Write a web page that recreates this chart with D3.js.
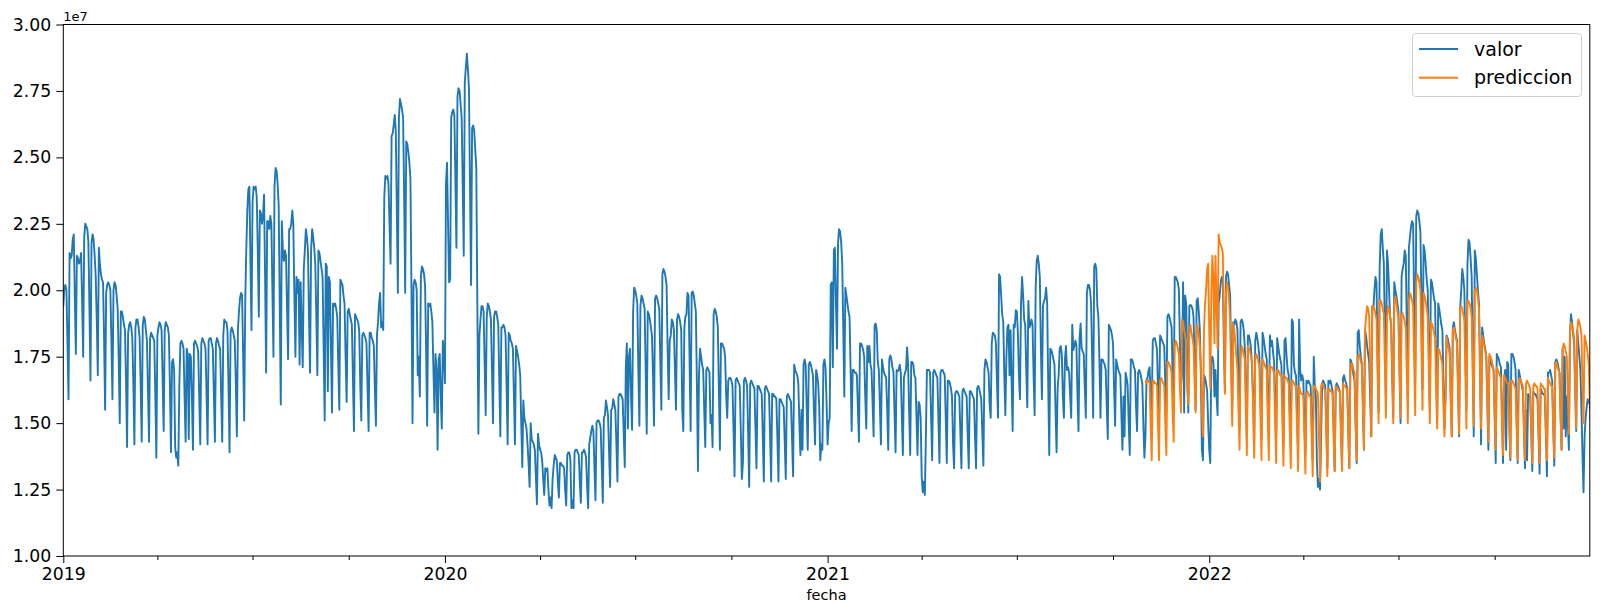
<!DOCTYPE html>
<html>
<head>
<meta charset="utf-8">
<script src="https://cdn.jsdelivr.net/npm/d3@7"></script>
<style>
html,body{margin:0;padding:0;background:#fff;}
svg{display:block;font-family:"DejaVu Sans",sans-serif;}
</style>
</head>
<body>
<svg id="chart" width="1600" height="613"></svg>
<script>
// ---- DATA (daily values, in millions) ----
const seriesNames = ["valor", "prediccion"];
const yTickValues = [1.00, 1.25, 1.50, 1.75, 2.00, 2.25, 2.50, 2.75, 3.00];
const xYearTicks = ["2019", "2020", "2021", "2022"];

// valor: 2019-01-01 .. 2019-12-31
const valor2019 = [
19.4,20.1,20.2,20.0,18.0,15.9,
21.4,21.2,21.3,21.9,22.1,19.8,17.6,
21.3,21.2,21.0,21.1,21.4,19.6,17.5,
22.0,22.5,22.4,22.3,21.8,19.3,16.6,
21.8,22.1,21.9,21.3,20.5,18.9,16.8,
21.6,21.0,20.6,20.4,20.3,18.2,15.5,
19.9,20.2,20.3,20.2,20.0,18.1,15.9,
20.0,20.3,20.2,19.8,19.3,17.4,15.0,
19.2,19.2,19.0,18.7,18.5,16.6,14.1,
18.4,18.7,18.8,18.6,18.2,16.5,14.2,
18.6,18.9,18.9,18.6,18.2,16.4,14.3,
18.7,19.0,18.9,18.5,18.1,16.2,14.3,
18.2,18.4,18.3,18.2,18.1,16.1,13.7,
18.3,18.6,18.8,18.7,18.5,16.6,14.7,
18.5,18.8,18.7,18.6,18.3,16.3,13.9,
17.3,17.4,17.0,14.1,13.7,13.9,13.4,
16.5,18.0,18.1,18.0,17.8,16.0,14.3,
17.8,17.6,14.4,17.6,17.5,16.0,14.0,
18.0,18.1,18.0,17.9,17.7,16.0,14.2,
18.0,18.2,18.1,18.0,17.8,16.1,14.2,
18.1,18.2,18.2,18.0,17.8,16.1,14.3,
18.0,18.2,18.1,17.9,17.8,16.0,14.3,
18.3,18.9,18.8,18.8,18.5,16.4,13.9,
18.4,18.6,18.5,18.3,18.1,16.5,14.5,
18.5,19.2,19.7,19.9,19.8,17.5,15.1,
19.5,21.5,23.0,23.8,23.9,21.0,18.5,
23.3,23.9,23.8,23.9,23.5,21.5,19.0,
23.0,22.9,22.5,22.8,23.6,20.5,16.9,
22.6,22.6,22.3,22.8,22.5,20.0,17.5,
23.9,24.6,24.5,24.0,23.2,19.5,15.7,
22.6,21.5,21.1,21.5,21.3,19.3,17.4,
22.3,22.3,22.5,23.0,22.5,19.8,17.5,
20.5,19.9,20.4,17.2,20.3,18.6,17.1,
20.8,21.5,22.3,22.0,21.5,19.0,16.9,
21.5,22.3,22.0,21.6,21.0,19.0,16.8,
21.5,21.4,21.1,20.8,20.5,17.8,15.1,
21.0,20.9,16.2,20.5,20.3,17.8,15.4,
19.5,19.4,19.5,19.3,19.0,17.2,15.5,
20.4,20.3,20.2,19.8,19.5,17.5,15.8,
19.2,19.3,19.1,18.9,18.7,16.7,14.7,
19.1,19.0,18.9,18.8,18.5,16.5,15.1,
18.3,18.4,18.3,18.2,18.0,16.3,14.7,
18.4,18.4,18.2,18.1,17.9,16.3,14.9,
18.3,18.8,19.5,19.9,18.6,18.8,18.5,
23.5,24.3,24.2,24.3,24.0,22.5,21.0,
25.8,25.9,26.2,26.6,26.0,23.0,19.9,
26.5,27.2,27.0,26.8,26.5,23.5,19.9,
25.6,25.5,25.2,24.8,24.2,20.0,15.0,
20.2,20.4,20.3,20.0,16.8,17.5,16.0,
20.5,20.9,20.8,20.6,20.2,17.8,14.9,
19.5,19.4,19.5,19.2,18.8,17.0,15.4,
17.6,17.0,14.0,17.4,17.6,16.0,14.8,
18.1,17.6
];

// valor: 2020-01-01 .. 2020-12-31
const valor2020 = [
16.5,24.0,24.8,22.5,20.3,
20.4,26.5,26.7,26.8,26.6,24.2,21.6,
27.3,27.6,27.5,27.0,26.5,24.0,21.3,
27.8,28.4,28.9,28.3,27.6,23.8,20.2,
26.1,26.2,26.0,25.3,24.6,19.5,14.6,
18.3,18.9,19.4,19.4,19.2,17.2,15.3,
19.0,19.5,19.4,19.2,18.9,17.0,15.0,
19.0,19.2,19.2,19.0,18.7,16.6,14.5,
18.6,18.6,18.7,18.6,18.3,16.3,14.2,
18.4,18.3,18.1,18.0,17.8,16.0,14.2,
17.9,17.7,17.5,17.2,16.8,15.0,13.35,
15.85,15.2,15.0,14.8,14.2,13.5,12.6,
15.0,14.4,14.3,14.2,14.0,13.0,11.95,
14.6,14.2,14.0,13.9,13.6,12.9,12.3,
13.3,13.2,13.3,12.5,11.9,12.2,11.8,
12.9,13.4,13.8,13.7,13.6,12.8,12.2,
13.5,13.5,13.4,13.4,13.3,12.5,11.9,
13.8,13.9,13.9,13.6,11.8,12.1,11.8,
13.9,14.0,14.0,13.9,13.8,12.8,12.0,
13.9,13.9,14.0,13.9,13.7,12.6,11.8,
14.2,14.45,14.7,14.9,14.7,13.3,12.1,
15.0,15.1,15.1,15.0,14.8,13.4,12.0,
15.2,15.3,15.85,15.6,15.3,13.9,12.6,
15.5,15.55,15.9,15.7,15.5,14.2,12.8,
16.0,16.1,16.1,16.0,15.9,14.6,13.35,
17.1,18.0,14.8,17.5,17.8,16.0,14.75,
19.2,20.1,20.0,19.8,19.5,17.0,14.9,
19.4,19.8,19.7,19.5,19.3,17.0,14.6,
19.2,19.1,18.9,18.6,18.3,16.8,14.9,
19.7,19.8,19.7,19.5,19.3,17.3,15.5,
20.6,20.8,20.7,20.5,20.2,17.8,15.9,
18.1,18.3,18.9,18.8,18.5,17.0,15.5,
18.9,19.1,19.0,18.8,18.5,15.5,14.7,
18.6,19.0,19.1,19.9,19.8,17.3,14.7,
19.9,19.95,19.8,19.5,19.2,16.5,13.2,
16.8,17.8,17.5,17.2,17.0,15.5,14.1,
17.0,17.1,17.0,16.9,15.0,15.3,14.1,
19.1,19.3,19.2,19.0,18.6,16.3,14.0,
18.0,18.0,17.9,17.8,17.5,16.0,15.2,
16.6,16.7,16.7,16.6,16.4,14.8,13.0,
16.6,16.7,16.6,16.5,16.4,14.7,12.9,
13.5,16.6,16.7,16.6,16.4,14.6,12.6,
16.5,16.6,16.5,16.4,16.3,14.8,13.3,
16.4,16.4,16.3,16.2,16.1,14.5,12.8,
16.3,16.4,16.3,16.2,16.1,14.5,12.8,
16.1,16.1,16.0,16.0,15.9,14.4,12.8,
15.9,15.9,15.8,15.7,15.6,14.3,12.9,
16.0,16.1,16.0,15.9,15.8,14.4,13.0,
17.2,17.0,16.9,16.8,16.5,15.0,13.8,
15.5,14.0,17.2,17.4,17.2,15.6,14.0,
17.2,17.3,17.2,17.0,16.8,15.4,14.2,
17.0,16.8,16.5,15.6,13.6,14.2,14.0,
17.2,17.4,17.1,15.8
];

// valor: 2021-01-01 .. 2021-12-31
const valor2021 = [
14.2,15.0,15.2,
20.2,20.3,17.1,21.5,21.6,19.5,17.8,
21.8,22.3,22.2,21.8,21.0,18.5,16.0,
20.1,19.8,19.5,19.2,19.0,17.0,14.7,
17.0,17.0,16.9,16.9,16.8,15.5,14.3,
18.0,18.0,17.9,17.75,17.5,16.0,14.8,
17.9,17.3,17.9,17.2,17.0,15.8,14.5,
18.7,18.75,18.5,17.3,17.0,15.7,14.2,
17.4,17.1,16.9,16.8,16.7,15.5,14.0,
17.4,17.55,17.4,17.1,16.9,15.4,13.9,
17.0,16.95,17.0,17.2,16.9,15.3,13.8,
16.7,16.9,17.0,17.85,17.2,15.4,13.8,
17.3,17.3,17.2,16.8,16.7,15.2,13.8,
15.8,15.7,15.2,13.0,12.4,12.8,12.3,
14.5,17.0,17.0,17.0,16.9,15.2,13.6,
16.9,17.0,16.9,16.8,16.7,15.1,13.5,
16.9,17.0,17.0,16.9,16.8,15.2,13.5,
16.6,16.6,16.5,16.3,16.0,14.2,13.3,
16.1,16.2,16.2,16.1,16.0,14.6,13.3,
16.2,16.3,16.2,16.1,16.0,14.6,13.3,
16.2,16.2,16.1,16.0,15.9,14.5,13.3,
16.3,16.4,16.3,16.1,15.9,14.6,13.4,
17.0,17.4,17.3,17.1,16.9,15.7,15.2,
18.0,18.4,18.35,18.3,18.0,16.5,15.2,
20.6,20.5,19.8,19.1,18.8,16.8,15.3,
17.5,18.6,18.7,16.8,18.5,16.5,14.7,
18.7,18.6,19.25,19.2,18.4,16.8,15.9,
19.5,20.5,19.8,18.9,18.7,17.0,15.6,
19.6,18.6,18.7,18.9,18.7,16.8,15.3,
20.1,21.1,21.3,21.0,20.5,17.8,15.9,
19.4,19.6,19.7,20.1,19.5,16.5,13.8,
17.8,17.75,17.6,17.4,17.2,15.5,13.9,
16.3,16.8,17.8,17.9,17.6,16.0,15.2,
17.4,17.9,17.0,17.1,16.9,16.0,15.2,
18.7,17.75,17.9,18.1,17.9,16.0,14.7,
18.2,18.75,17.8,17.7,17.6,16.3,15.2,
19.9,20.2,20.2,20.0,19.5,17.5,15.2,
20.9,21.0,20.8,19.4,19.0,17.3,15.2,
17.4,17.4,17.3,17.2,17.0,15.6,14.4,
18.7,18.6,18.5,18.3,18.0,16.3,14.9,
17.4,17.2,17.0,16.9,16.8,15.3,14.0,
16.0,14.5,16.9,16.7,16.4,15.0,13.8,
17.4,17.4,17.3,17.1,17.0,15.6,14.7,
16.9,17.0,16.9,16.7,16.5,15.0,13.7,
14.5,16.6,16.7,17.0,17.1,15.8,15.5,
18.1,18.2,18.2,18.0,17.8,16.3,15.3,
18.3,18.2,18.1,18.0,17.9,16.4,15.4,
19.0,19.1,19.0,18.8,18.6,16.8,15.4,
20.5,20.5,20.4,20.3,20.0,17.9,16.4,
17.0,20.3,15.4,19.8,19.5,17.0,15.4,
19.4,19.45,19.4,19.3,19.0,17.2,15.5,
19.6,19.7,19.2,18.5,16.8,14.0,13.6,
16.8,16.7,16.5,16.2,15.0
];

// valor: 2022-01-01 .. 2022-12-31
const valor2022 = [
14.0,13.5,
17.4,17.5,17.3,16.0,17.0,16.0,15.3,
19.5,19.8,20.3,20.5,20.3,18.0,16.2,
20.5,20.7,20.6,20.2,19.8,17.5,15.5,
18.8,18.7,18.9,18.8,18.5,16.5,14.8,
18.8,18.9,18.8,18.5,17.9,16.2,14.5,
18.3,18.3,18.1,17.8,17.0,15.9,14.4,
18.1,18.4,18.2,17.9,17.5,15.9,14.4,
18.4,18.2,17.9,17.6,17.4,15.8,14.5,
18.3,17.9,18.1,17.7,17.3,15.8,14.4,
18.2,17.9,17.6,17.4,17.2,15.7,14.2,
18.1,18.2,17.5,17.0,16.8,15.4,14.1,
18.9,18.8,17.2,16.9,16.8,15.2,14.0,
18.9,17.0,16.6,16.8,16.6,15.1,13.8,
16.6,16.5,16.6,16.5,16.4,15.0,13.6,
17.5,16.4,16.0,13.5,12.6,12.9,12.5,
14.5,16.5,16.6,16.5,16.4,14.9,13.3,
16.6,16.5,16.6,16.4,16.2,14.8,13.2,
16.4,16.5,16.4,16.3,16.2,14.8,13.3,
16.7,16.8,16.6,16.5,16.3,14.8,13.3,
17.4,17.3,17.1,16.8,16.6,15.0,13.5,
18.4,18.5,17.9,17.5,17.2,15.6,14.0,
18.5,18.3,17.9,17.6,17.3,15.8,14.5,
19.4,19.3,20.0,20.5,20.3,17.5,15.4,
20.8,22.1,22.3,21.6,21.0,18.5,16.0,
21.5,21.0,20.0,19.0,18.7,16.8,15.2,
20.3,20.0,19.8,19.5,19.2,17.0,15.0,
20.5,20.8,21.0,21.5,21.3,18.5,16.0,
21.6,22.0,22.4,22.6,22.5,19.5,16.5,
22.8,23.0,22.9,22.6,22.2,19.5,16.3,
21.7,21.5,21.0,20.4,20.0,17.8,15.5,
20.4,20.3,20.0,19.7,19.5,17.2,15.0,
19.5,19.3,19.0,18.7,18.5,16.5,14.8,
16.0,18.3,18.2,18.0,17.8,16.0,14.5,
18.6,18.8,18.5,18.3,18.1,16.3,14.5,
19.3,20.0,20.8,20.5,20.0,17.8,15.5,
21.0,21.9,21.8,21.2,20.5,17.5,14.5,
21.5,21.2,20.6,20.0,19.5,17.0,14.2,
18.6,18.3,18.0,17.8,17.5,15.8,14.0,
17.5,17.3,17.2,17.1,17.0,15.3,13.5,
17.6,17.5,17.4,17.2,17.1,15.4,13.5,
16.5,17.0,14.0,17.3,17.2,15.3,13.6,
17.6,17.6,17.5,17.3,17.0,15.3,13.5,
17.0,16.8,16.6,16.4,16.2,14.8,13.3,
15.5,13.6,16.1,16.0,16.0,14.6,13.2,
16.2,16.1,16.1,16.0,15.9,14.5,13.1,
16.3,16.2,16.1,16.1,16.0,14.6,13.0,
16.9,16.9,17.0,16.8,16.6,15.0,13.4,
17.3,17.4,17.3,17.1,16.9,15.4,14.0,
17.8,14.8,17.5,14.5,16.0,15.0,14.0,
18.3,19.1,18.8,18.4,18.0,16.3,14.7,
18.5,18.0,17.5,17.0,15.5,13.8,12.4,
14.5,15.2,15.6,15.9,15.8,15.7
];

// prediccion: 2021-11-01 .. 2021-12-31
const prediccion2021 = [
16.6,16.5,16.6,16.6,16.5,15.0,13.6,
16.6,16.6,16.5,16.5,16.4,15.0,13.6,
16.6,16.7,16.6,16.5,16.4,15.0,13.8,
17.3,17.3,17.2,17.1,16.9,15.4,14.3,
17.9,18.1,18.0,17.8,17.6,16.3,15.4,
18.9,18.8,18.5,18.3,18.0,16.3,15.7,
18.5,18.7,18.4,18.2,17.9,16.5,15.4,
18.7,18.6,18.3,17.9,17.3,15.5,14.5,
18.5,19.5,20.0,20.8,21.0
];

// prediccion: 2022-01-01 .. 2022-12-31
const prediccion2022 = [
18.5,16.3,
19.8,21.3,20.5,18.0,21.3,19.5,17.8,
22.1,21.8,21.7,21.6,21.4,18.8,16.1,
20.0,20.3,20.1,19.6,18.8,16.8,14.9,
18.75,18.5,18.0,17.5,17.0,15.5,14.0,
17.4,17.9,17.8,17.6,17.4,15.5,13.8,
17.9,17.8,17.7,17.5,17.3,15.5,13.7,
17.4,17.6,17.5,17.3,17.1,15.3,13.6,
17.4,17.3,17.2,17.1,17.0,15.2,13.6,
17.2,17.1,17.1,17.0,16.9,15.1,13.5,
17.0,17.0,16.9,16.8,16.8,15.0,13.4,
16.8,16.7,16.7,16.6,16.5,14.9,13.3,
16.6,16.6,16.5,16.4,16.4,14.8,13.2,
16.4,16.2,16.1,16.1,16.0,14.5,13.1,
16.1,16.2,16.1,16.0,16.0,14.5,13.0,
16.4,16.4,16.3,16.2,16.1,14.5,12.8,
16.4,16.5,16.4,16.3,16.2,14.6,13.0,
16.3,16.3,16.2,16.2,16.1,14.5,13.2,
16.4,16.3,16.3,16.2,16.2,14.6,13.2,
16.5,16.4,16.4,16.3,16.3,14.6,13.3,
16.9,17.25,17.2,17.0,16.9,15.1,13.6,
17.4,17.6,17.5,17.3,17.2,15.6,14.0,
18.5,19.0,19.4,19.3,19.0,17.0,14.5,
19.4,19.4,19.3,19.1,18.9,17.0,15.0,
19.6,19.63,19.5,19.3,19.1,17.2,15.2,
19.0,19.4,19.3,19.0,18.8,17.0,15.0,
19.5,19.76,19.5,19.2,18.9,17.0,15.2,
19.1,19.13,19.0,18.8,18.6,16.8,15.0,
19.6,19.9,19.8,19.6,19.4,17.4,15.3,
20.3,20.6,20.5,20.3,20.0,17.8,15.5,
19.9,19.8,19.6,19.3,19.0,17.0,15.0,
18.8,18.75,18.6,18.4,18.2,16.4,14.8,
17.8,17.75,17.6,17.4,17.2,15.6,14.5,
16.0,18.25,18.0,17.8,17.6,15.8,14.5,
18.5,18.6,18.4,18.2,18.0,16.2,14.6,
19.3,19.4,19.3,19.1,18.9,16.8,14.8,
19.6,19.6,19.5,19.3,19.0,17.0,14.9,
20.0,20.1,20.0,19.7,19.3,17.0,14.8,
18.3,18.1,17.9,17.7,17.5,15.8,14.3,
17.6,17.5,17.4,17.2,17.0,15.4,14.0,
17.1,17.0,16.9,16.8,16.7,15.0,13.8,
16.8,16.7,16.6,16.5,16.5,14.8,13.7,
16.6,16.6,16.5,16.4,16.3,14.8,13.6,
16.6,16.7,16.6,16.5,16.4,14.8,13.6,
16.5,16.6,16.5,16.4,16.3,14.8,13.5,
16.4,16.5,16.4,16.4,16.3,14.7,13.5,
16.5,16.4,16.4,16.3,16.3,14.7,13.6,
16.7,16.6,16.5,16.4,16.4,14.8,13.7,
17.25,17.3,17.1,17.0,16.9,15.3,14.0,
17.8,18.0,17.9,17.7,17.5,16.0,14.6,
18.3,18.8,18.7,18.5,18.2,16.3,14.8,
18.5,18.9,18.8,18.6,18.3,16.5,15.0,
18.3,18.1,17.9,17.6,17.2,15.8,15.0,
17.8,18.1,18.0,17.6,17.4,16.0
];

// ---- build tables ----
function daily(values, y, m, d) {
  return values.map((v, i) => ({ date: new Date(Date.UTC(y, m, d + i)), value: v * 1e6 }));
}
const valorData = [].concat(
  daily(valor2019, 2019, 0, 1),
  daily(valor2020, 2020, 0, 1),
  daily(valor2021, 2021, 0, 1),
  daily(valor2022, 2022, 0, 1)
);
const prediccionData = [].concat(
  daily(prediccion2021, 2021, 10, 1),
  daily(prediccion2022, 2022, 0, 1)
);

// ---- layout ----
const L = 63.3, R = 1589.8, T = 24.5, B = 556;
const svg = d3.select("#chart");

const x = d3.scaleUtc()
  .domain([new Date(Date.UTC(2019, 0, 1)), new Date(Date.UTC(2022, 11, 31))])
  .range([L, R]);
const y = d3.scaleLinear().domain([1e7, 3e7]).range([B, T]);

svg.append("defs").append("clipPath").attr("id", "clip")
  .append("rect").attr("x", L).attr("y", T).attr("width", R - L).attr("height", B - T);

const line = d3.line().x(d => x(d.date)).y(d => y(d.value));
const colors = { valor: "#1f77b4", prediccion: "#ff7f0e" };

const g = svg.append("g").attr("clip-path", "url(#clip)");
g.append("path").datum(valorData)
  .attr("fill", "none").attr("stroke", colors.valor).attr("stroke-width", 1.9)
  .attr("stroke-linejoin", "round").attr("d", line);
g.append("path").datum(prediccionData)
  .attr("fill", "none").attr("stroke", colors.prediccion).attr("stroke-width", 1.9)
  .attr("stroke-linejoin", "round").attr("d", line);

// ---- axes ----
const yAxis = d3.axisLeft(y)
  .tickValues(yTickValues.map(v => v * 1e7))
  .tickFormat(d => (d / 1e7).toFixed(2))
  .tickSize(7).tickPadding(5);
const gy = svg.append("g").attr("transform", `translate(${L},0)`).call(yAxis);
gy.select(".domain").remove();
gy.selectAll("text").attr("font-size", "17.3px").attr("font-family", "DejaVu Sans").attr("fill", "#000");
gy.selectAll("line").attr("stroke", "#000");

const yearDates = xYearTicks.map(s => new Date(Date.UTC(+s, 0, 1)));
const xAxis = d3.axisBottom(x).tickValues(yearDates)
  .tickFormat((d, i) => xYearTicks[i]).tickSize(7).tickPadding(4.5);
const gx = svg.append("g").attr("transform", `translate(0,${B})`).call(xAxis);
gx.select(".domain").remove();
gx.selectAll("text").attr("font-size", "17.3px").attr("font-family", "DejaVu Sans").attr("fill", "#000");
gx.selectAll("line").attr("stroke", "#000");

const minorDates = [];
for (let yr = 2019; yr <= 2022; yr++) for (const m of [3, 6, 9]) minorDates.push(new Date(Date.UTC(yr, m, 1)));
const xMinor = d3.axisBottom(x).tickValues(minorDates).tickFormat("").tickSize(4);
const gxm = svg.append("g").attr("transform", `translate(0,${B})`).call(xMinor);
gxm.select(".domain").remove();
gxm.selectAll("line").attr("stroke", "#000");

// frame
svg.append("rect").attr("x", L).attr("y", T).attr("width", R - L).attr("height", B - T)
  .attr("fill", "none").attr("stroke", "#000").attr("stroke-width", 1);

// labels
svg.append("text").attr("x", (L + R) / 2).attr("y", 595).attr("dy", "0.35em")
  .attr("text-anchor", "middle").attr("font-size", "14.5px").attr("fill", "#000").text("fecha");
svg.append("text").attr("x", L).attr("y", 21).attr("font-size", "13px").attr("fill", "#000").text("1e7");

// legend
const lg = svg.append("g");
lg.append("rect").attr("x", 1412.5).attr("y", 33.5).attr("width", 169).attr("height", 63)
  .attr("rx", 3).attr("fill", "#fff").attr("fill-opacity", 0.8).attr("stroke", "#d0d0d0");
seriesNames.forEach((name, i) => {
  const yy = 49 + i * 28.7;
  lg.append("line").attr("x1", 1419).attr("x2", 1458).attr("y1", yy).attr("y2", yy)
    .attr("stroke", colors[name]).attr("stroke-width", 1.9);
  lg.append("text").attr("x", 1474).attr("y", yy).attr("dy", "0.35em")
    .attr("font-size", "19px").attr("fill", "#000").text(name);
});
</script>
</body>
</html>
